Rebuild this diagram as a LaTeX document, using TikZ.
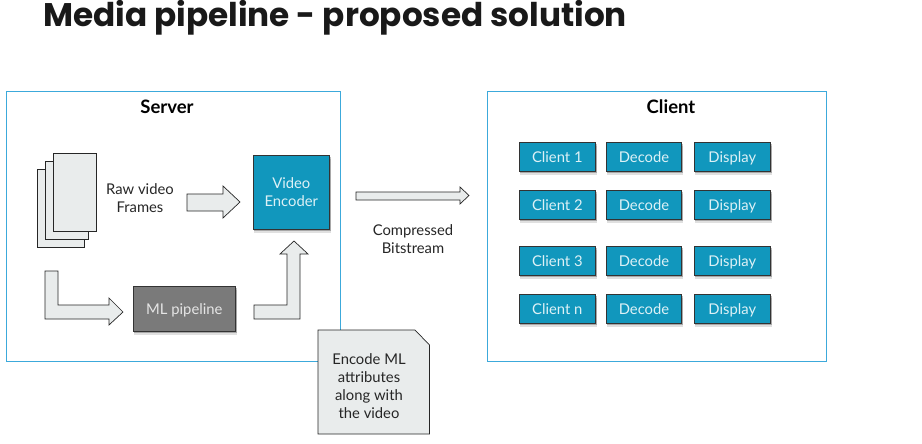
\documentclass[tikz,border=0pt]{standalone}
\usepackage{fontspec}
\setmainfont{Lato}
\newfontfamily\titlefont{Poppins}[UprightFont=*-Bold]
\usepackage{tikz}
\usetikzlibrary{calc,shapes,positioning}
\usetikzlibrary{shadows}
\definecolor{boxline}{HTML}{3CA9DB}
\definecolor{tealfill}{HTML}{1197BD}
\definecolor{lightfill}{HTML}{E9ECEC}
\definecolor{greyfill}{HTML}{7A7A7A}
\definecolor{lighttext}{HTML}{DDF1F6}

\begin{document}
\begin{tikzpicture}[x=1pt,y=-1pt]
    \useasboundingbox (0,0) rectangle (922,444);
    \tikzstyle{panel} = [draw=boxline, line width=0.9pt, inner sep=0pt]
    \tikzstyle{heading} = [inner sep=0pt, font=\fontsize{18.5}{22}\selectfont\bfseries]
    \tikzstyle{caption} = [inner sep=0pt, align=center, text=black!85, font=\fontsize{14.8}{18}\selectfont]
    \tikzstyle{page} = [draw=black!85, fill=lightfill, line width=0.7pt]
    \tikzstyle{blockarrow} = [draw=black!85, fill=lightfill, line width=0.7pt, line join=miter]
    \tikzstyle{tnode} = [draw=black!80, fill=tealfill, line width=0.7pt, inner sep=0pt, align=center, text=lighttext,
      font=\fontsize{14.8}{18}\selectfont,
      drop shadow={shadow xshift=1pt, shadow yshift=-4pt, fill=black, opacity=0.12},
      drop shadow={shadow xshift=1pt, shadow yshift=-2pt, fill=black, opacity=0.25}]
    \tikzstyle{cnode} = [tnode, minimum width=76.5pt, minimum height=29pt, text height=13pt, text depth=1.5pt]
    \tikzstyle{dnode} = [tnode, minimum width=75.5pt, minimum height=29pt, text height=13pt, text depth=1.5pt]

    \node[anchor=base west, inner sep=0pt, font=\fontsize{32.7}{40}\selectfont\titlefont, text=black!90] (title) at (43,27) {Media pipeline - proposed solution};

    % panels
    \node[panel, minimum width=334pt, minimum height=270pt] (server) at (173.5,226) {};
    \node[panel, minimum width=339pt, minimum height=270pt] (client) at (657,226) {};
    \node[heading] (servertitle) at (167,107) {Server};
    \node[heading] (clienttitle) at (671,107) {Client};

    % server side
    \draw[page] (37,169) rectangle (84,247);
    \draw[page] (45,161) rectangle (88,239);
    \draw[page] (53,153) rectangle (96,231);
    \node[caption] (raw) at (140,198) {Raw video\\Frames};
    \node[tnode, minimum width=76.5pt, minimum height=74pt] (encoder) at (291.3,192) {Video\\Encoder};
    \node[tnode, fill=greyfill, text=white!90!black, minimum width=102.5pt, minimum height=45pt, text height=13pt, text depth=1.5pt] (ml) at (184.3,308.5) {ML pipeline};

    \draw[blockarrow] (187,194) -- (223,194) -- (223,186) -- (240,202) -- (223,218) -- (223,211) -- (187,211) -- cycle;
    \draw[blockarrow] (45,271) -- (58,271) -- (58,305) -- (109,305) -- (109,298) -- (123,312) -- (109,325) -- (109,319) -- (45,319) -- cycle;
    \draw[blockarrow] (254,305) -- (287,305) -- (287,254) -- (280,254) -- (294,241) -- (308,254) -- (300,254) -- (300,319) -- (254,319) -- cycle;

    % link
    \draw[blockarrow] (356,192) -- (460,192) -- (460,187) -- (469,195.5) -- (460,204) -- (460,200) -- (356,200) -- cycle;
    \node[caption] (bits) at (413,239) {Compressed\\Bitstream};

    % note
    \draw[blockarrow] (318,330) -- (415,330) -- (429.5,345) -- (429.5,434) -- (318,434) -- cycle;
    \node[caption] (note) at (369,386) {Encode ML\\attributes\\along with\\the video};

    % client side
    \node[cnode] (c1) at (557.3,156.5) {Client 1};
    \node[dnode] (d1) at (644,156.5) {Decode};
    \node[cnode] (p1) at (732.3,156.5) {Display};

    \node[cnode] (c2) at (557.3,204.5) {Client 2};
    \node[dnode] (d2) at (644,204.5) {Decode};
    \node[cnode] (p2) at (732.3,204.5) {Display};

    \node[cnode] (c3) at (557.3,260.5) {Client 3};
    \node[dnode] (d3) at (644,260.5) {Decode};
    \node[cnode] (p3) at (732.3,260.5) {Display};

    \node[cnode] (c4) at (557.3,308.5) {Client n};
    \node[dnode] (d4) at (644,308.5) {Decode};
    \node[cnode] (p4) at (732.3,308.5) {Display};
\end{tikzpicture}
\end{document}
